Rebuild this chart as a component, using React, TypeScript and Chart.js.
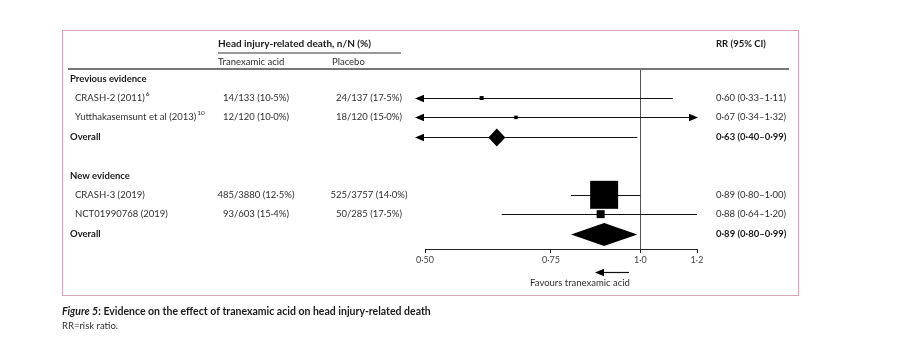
import React, { useEffect, useRef } from "react";
import { Chart, registerables } from "chart.js";

Chart.register(...registerables);

// ---------- data ----------
const groups = ["Previous evidence", "New evidence"];
const groupRows = [0, 5];

const studies = ["CRASH-2 (2011)", "Yutthakasemsunt et al (2013)", "CRASH-3 (2019)", "NCT01990768 (2019)"];
const studyRefs = ["6", "10", "", ""];
const studyRows = [1, 2, 6, 7];
const txaCounts = ["14/133 (10·5%)", "12/120 (10·0%)", "485/3880 (12·5%)", "93/603 (15·4%)"];
const placeboCounts = ["24/137 (17·5%)", "18/120 (15·0%)", "525/3757 (14·0%)", "50/285 (17·5%)"];
const rr = [0.6, 0.67, 0.89, 0.88];
const lower = [0.33, 0.34, 0.8, 0.64];
const upper = [1.11, 1.32, 1.0, 1.2];
const weights = [1.8, 1.4, 89.5, 7.3];

const overallRows = [3, 8];
const overallRR = [0.63, 0.89];
const overallLower = [0.4, 0.8];
const overallUpper = [0.99, 0.99];

const tickValues = [0.5, 0.75, 1.0, 1.2];
const tickLabels = ["0·50", "0·75", "1·0", "1·2"];

// ---------- helpers ----------
const FONT = "Lato, 'Noto Sans', sans-serif";
const fmt = (v: number) => v.toFixed(2).replace(".", "·");
const ciText = (m: number, l: number, u: number) => `${fmt(m)} (${fmt(l)}–${fmt(u)})`;

function arrowHead(ctx: CanvasRenderingContext2D, tipX: number, y: number, dir: number) {
  const len = 9;
  const half = 3.8;
  ctx.beginPath();
  ctx.moveTo(tipX, y);
  ctx.lineTo(tipX - dir * len, y - half);
  ctx.lineTo(tipX - dir * len, y + half);
  ctx.closePath();
  ctx.fill();
}

function ciLine(chart: any, lo: number, hi: number, yy: number) {
  const { ctx, chartArea, scales } = chart;
  const x = scales.x;
  const leftArrow = lo < x.min;
  const rightArrow = hi > x.max;
  const x0 = leftArrow ? chartArea.left - 10 : x.getPixelForValue(lo);
  const x1 = rightArrow ? chartArea.right + 1 : x.getPixelForValue(hi);
  ctx.beginPath();
  ctx.moveTo(x0 + (leftArrow ? 5 : 0), yy);
  ctx.lineTo(x1 - (rightArrow ? 5 : 0), yy);
  ctx.stroke();
  if (leftArrow) arrowHead(ctx, x0, yy, -1);
  if (rightArrow) arrowHead(ctx, x1, yy, 1);
}

const forestPlugin = {
  id: "forest",
  beforeDatasetsDraw(chart: any) {
    const { ctx, chartArea, scales } = chart;
    const x = scales.x;
    const y = scales.y;
    ctx.save();
    // reference line at RR = 1
    const xr = Math.round(x.getPixelForValue(1)) + 0.5;
    ctx.strokeStyle = "#555";
    ctx.lineWidth = 1;
    ctx.beginPath();
    ctx.moveTo(xr, chartArea.top);
    ctx.lineTo(xr, chartArea.bottom);
    ctx.stroke();

    ctx.strokeStyle = "#111";
    ctx.fillStyle = "#000";
    ctx.lineWidth = 1.2;
    studies.forEach((_, i) => {
      const yy = Math.round(y.getPixelForValue(studyRows[i])) + 0.5;
      ciLine(chart, lower[i], upper[i], yy);
    });

    overallRows.forEach((row, g) => {
      const yy = Math.round(y.getPixelForValue(row)) + 0.5;
      const xm = x.getPixelForValue(overallRR[g]);
      if (overallLower[g] < x.min || overallUpper[g] > x.max) {
        ciLine(chart, overallLower[g], overallUpper[g], yy);
        ctx.beginPath();
        ctx.moveTo(xm - 8.5, yy);
        ctx.lineTo(xm, yy - 9);
        ctx.lineTo(xm + 8.5, yy);
        ctx.lineTo(xm, yy + 9);
        ctx.closePath();
        ctx.fill();
      } else {
        const xl = x.getPixelForValue(overallLower[g]);
        const xh = x.getPixelForValue(overallUpper[g]);
        ctx.beginPath();
        ctx.moveTo(xl, yy);
        ctx.lineTo(xm, yy - 11.5);
        ctx.lineTo(xh, yy);
        ctx.lineTo(xm, yy + 11.5);
        ctx.closePath();
        ctx.fill();
      }
    });
    ctx.restore();
  },
  afterDraw(chart: any) {
    const { ctx, chartArea, scales } = chart;
    const y = scales.y;
    const top = chartArea.top;
    ctx.save();

    // outer pink frame
    ctx.strokeStyle = "#d9a6b3";
    ctx.lineWidth = 1;
    ctx.strokeRect(62.5, 30.5, 736, 265);

    // header
    const textCol = "#2e2e2e";
    const boldCol = "#1a1a1a";
    ctx.textBaseline = "middle";
    ctx.fillStyle = boldCol;
    ctx.textAlign = "left";
    ctx.font = `bold 10px ${FONT}`;
    ctx.fillText("Head injury-related death, n/N (%)", 218, top - 25);
    ctx.font = `bold 9.5px ${FONT}`;
    ctx.fillText("RR (95% CI)", 716, top - 25);

    ctx.strokeStyle = "#777";
    ctx.lineWidth = 1.5;
    ctx.beginPath();
    ctx.moveTo(218, top - 16);
    ctx.lineTo(401, top - 16);
    ctx.stroke();

    ctx.fillStyle = textCol;
    ctx.font = `9.5px ${FONT}`;
    ctx.fillText("Tranexamic acid", 218, top - 7);
    ctx.fillText("Placebo", 332, top - 7);

    ctx.strokeStyle = "#777";
    ctx.lineWidth = 2;
    ctx.beginPath();
    ctx.moveTo(68, top);
    ctx.lineTo(789, top);
    ctx.stroke();

    // group labels
    ctx.fillStyle = boldCol;
    ctx.font = `bold 9.5px ${FONT}`;
    groups.forEach((g, i) => ctx.fillText(g, 70, y.getPixelForValue(groupRows[i])));

    // studies
    studies.forEach((s, i) => {
      const yy = y.getPixelForValue(studyRows[i]);
      ctx.fillStyle = textCol;
      ctx.font = `9.5px ${FONT}`;
      ctx.textAlign = "left";
      ctx.fillText(s, 75, yy);
      if (studyRefs[i]) {
        const w = ctx.measureText(s).width;
        ctx.font = `6.5px ${FONT}`;
        ctx.fillText(studyRefs[i], 75 + w + 1, yy - 4);
        ctx.font = `9.5px ${FONT}`;
      }
      ctx.textAlign = "center";
      ctx.fillText(txaCounts[i], 256, yy);
      ctx.fillText(placeboCounts[i], 369, yy);
      ctx.textAlign = "left";
      ctx.fillText(ciText(rr[i], lower[i], upper[i]), 716, yy);
    });

    // overall rows
    overallRows.forEach((row, g) => {
      const yy = y.getPixelForValue(row);
      ctx.fillStyle = boldCol;
      ctx.font = `bold 9.5px ${FONT}`;
      ctx.textAlign = "left";
      ctx.fillText("Overall", 70, yy);
      ctx.fillText(ciText(overallRR[g], overallLower[g], overallUpper[g]), 716, yy);
    });

    // favours arrow
    const fy = 272.5;
    ctx.strokeStyle = "#111";
    ctx.fillStyle = "#000";
    ctx.lineWidth = 1.2;
    ctx.beginPath();
    ctx.moveTo(629, fy);
    ctx.lineTo(600, fy);
    ctx.stroke();
    arrowHead(ctx, 595, fy, -1);
    ctx.fillStyle = textCol;
    ctx.font = `9.5px ${FONT}`;
    ctx.textAlign = "center";
    ctx.fillText("Favours tranexamic acid", 580, 283);

    // caption
    ctx.textAlign = "left";
    ctx.fillStyle = "#1a1a1a";
    ctx.font = `italic bold 10.5px ${FONT}`;
    ctx.fillText("Figure 5", 62, 312);
    const fw = ctx.measureText("Figure 5").width;
    ctx.font = `bold 10.5px ${FONT}`;
    ctx.fillText(": Evidence on the effect of tranexamic acid on head injury-related death", 62 + fw, 312);
    ctx.fillStyle = textCol;
    ctx.font = `9.5px ${FONT}`;
    ctx.fillText("RR=risk ratio.", 62, 326);

    ctx.restore();
  },
};

export default function App() {
  const ref = useRef<HTMLCanvasElement>(null);

  useEffect(() => {
    const canvas = ref.current;
    if (!canvas) return;
    const chart = new Chart(canvas, {
      type: "scatter",
      data: {
        datasets: [
          {
            label: "Studies",
            data: studies.map((_, i) => ({ x: rr[i], y: studyRows[i] })),
            pointStyle: "rect",
            pointRadius: weights.map((w) => (Math.sqrt(w) * 2.96) / Math.SQRT2),
            pointHoverRadius: weights.map((w) => (Math.sqrt(w) * 2.96) / Math.SQRT2),
            backgroundColor: "#000",
            borderColor: "#000",
            borderWidth: 0,
            clip: false as any,
          },
        ],
      },
      options: {
        responsive: false,
        animation: false,
        events: [],
        layout: { padding: { left: 425, right: 205, top: 69, bottom: 75 } },
        plugins: { legend: { display: false }, tooltip: { enabled: false } },
        scales: {
          x: {
            type: "logarithmic",
            min: 0.5,
            max: 1.2,
            bounds: "data",
            afterBuildTicks: (scale: any) => {
              scale.ticks = tickValues.map((v) => ({ value: v }));
            },
            afterFit: (scale: any) => {
              scale.height = 40;
            },
            ticks: {
              autoSkip: false,
              maxRotation: 0,
              padding: 2,
              color: "#444",
              font: { family: FONT, size: 9 },
              callback: (value: any) => {
                const idx = tickValues.findIndex((t) => Math.abs(t - Number(value)) < 1e-9);
                return idx >= 0 ? tickLabels[idx] : "";
              },
            },
            grid: { display: true, drawOnChartArea: false, drawTicks: true, tickLength: 4, color: "#222" },
            border: { display: true, color: "#222", width: 1 },
          },
          y: {
            type: "linear",
            min: -0.5,
            max: 8.8,
            reverse: true,
            display: false,
          },
        },
      },
      plugins: [forestPlugin],
    });
    return () => chart.destroy();
  }, []);

  return (
    <div style={{ position: "absolute", left: 0, top: 0, width: 902, height: 364, background: "#fff" }}>
      <canvas ref={ref} width={902} height={364} style={{ display: "block", width: 902, height: 364 }} />
    </div>
  );
}
